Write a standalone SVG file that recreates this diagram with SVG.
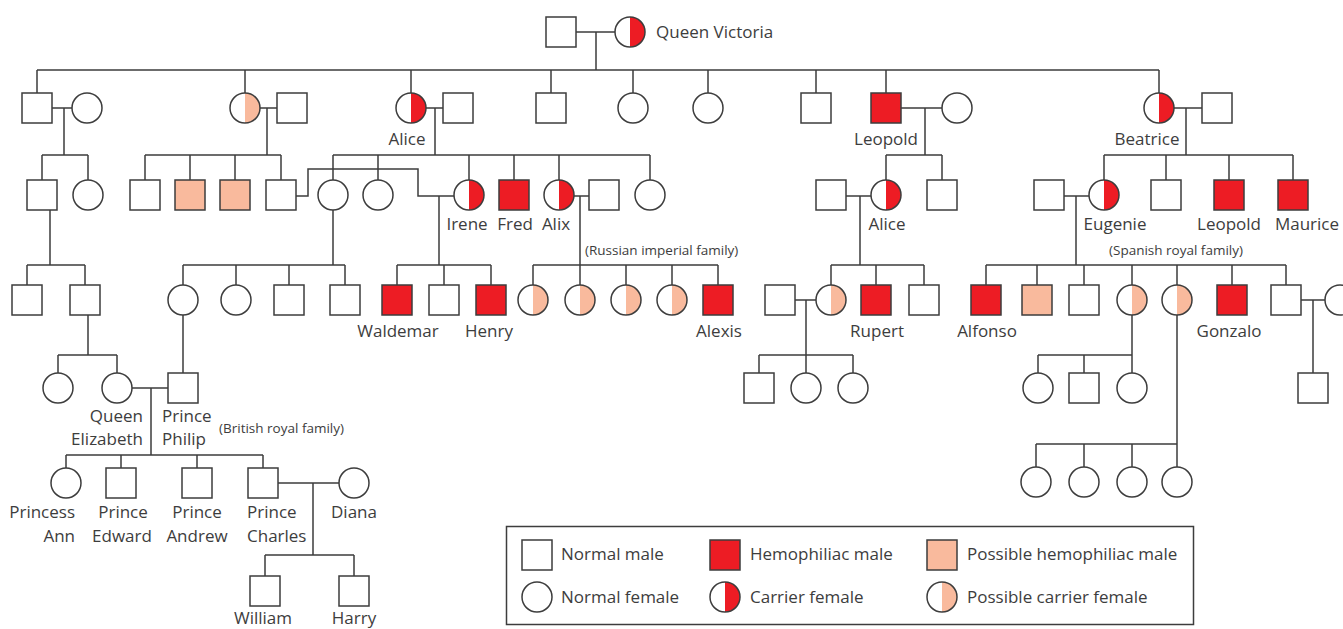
<svg xmlns="http://www.w3.org/2000/svg" width="1343" height="629" viewBox="0 0 1343 629">
<style>
.ln{fill:none;stroke:#3d3d3d;stroke-width:1.5}
.nd{stroke:#3d3d3d;stroke-width:1.5}
text{font-family:"Open Sans","Noto Sans",sans-serif;fill:#3d3d3d}
.lb{font-size:17px}
.sm{font-size:13.5px}
.mid{text-anchor:middle}
.end{text-anchor:end}
</style>
<defs>
<g id="m"><rect x="-15" y="-15" width="30" height="30" fill="#fff" class="nd"/></g>
<g id="mh"><rect x="-15" y="-15" width="30" height="30" fill="#ED1C24" class="nd"/></g>
<g id="mp"><rect x="-15" y="-15" width="30" height="30" fill="#F9BA9D" class="nd"/></g>
<g id="f"><circle r="15" fill="#fff" class="nd"/></g>
<g id="fc"><circle r="15" fill="#fff"/><path d="M0,-15A15,15 0 0 1 0,15Z" fill="#ED1C24"/><circle r="15" fill="none" class="nd"/></g>
<g id="fp"><circle r="15" fill="#fff"/><path d="M0,-15A15,15 0 0 1 0,15Z" fill="#F9BA9D"/><circle r="15" fill="none" class="nd"/></g>
</defs>

<g id="connectors" class="ln">
<path d="M576,32H615M596,32V70M37,70H1159M37,70V93M245,70V93M411,70V93M551,70V93M633,70V93M708,70V93M816,70V93M886,70V93M1159,70V93"/>
<path d="M52,108H72M64,108V155M42,155H88M42,155V180M88,155V180"/>
<path d="M260,108H277M267,108V155M145,155H281M145,155V180M190,155V180M235,155V180M281,155V180"/>
<path d="M426,108H443M435,108V155M333,155H650M333,155V180M378,155V180M469,155V180M514,155V180M559,155V180M650,155V180"/>
<path d="M901,108H942M925,108V155M886,155H942M886,155V180M942,155V180"/>
<path d="M1174,108H1202M1186,108V155M1104,155H1293M1104,155V180M1166,155V180M1229,155V180M1293,155V180"/>
<path d="M50,210V265M27,265H85M27,265V285M85,265V285"/>
<path d="M296,196H308V169H418V196H454M439,196V265M397,265H491M397,265V285M444,265V285M491,265V285"/>
<path d="M333,210V265M183,265H345M183,265V285M236,265V285M289,265V285M345,265V285"/>
<path d="M574,196H589M580,196V285M533,265H718M533,265V285M626,265V285M672,265V285M718,265V285"/>
<path d="M846,196H871M860,196V265M831,265H924M831,265V285M876,265V285M924,265V285"/>
<path d="M1064,196H1089M1076,196V265M986,265H1286M986,265V285M1037,265V285M1084,265V285M1132,265V285M1177,265V285M1232,265V285M1286,265V285"/>
<path d="M88,315V355M58,355H117M58,355V373M117,355V373M183,315V373"/>
<path d="M795,300H816M806,300V355M759,355H853M759,355V373M853,355V373M806,355V373"/>
<path d="M1132,315V373M1038,355H1132M1038,355V373M1084,355V373"/>
<path d="M1177,315V467M1036,444H1177M1036,444V467M1084,444V467M1132,444V467"/>
<path d="M1301,300H1325M1313,300V373"/>
<path d="M132,388H168M151,388V455M66,455H263M66,455V468M121,455V468M197,455V468M263,455V468"/>
<path d="M278,483H339M313,483V555M265,555H354M265,555V576M354,555V576"/>
</g>

<g id="n-albert"><use href="#m" x="561" y="32"/></g>
<g id="n-victoria"><use href="#fc" x="630" y="32"/><text class="lb" x="656" y="38">Queen Victoria</text></g>

<g id="n-g1-son1"><use href="#m" x="37" y="108"/></g>
<g id="n-g1-son1-wife"><use href="#f" x="87" y="108"/></g>
<g id="n-vicky"><use href="#fp" x="245" y="108"/></g>
<g id="n-vicky-husband"><use href="#m" x="292" y="108"/></g>
<g id="n-alice"><use href="#fc" x="411" y="108"/><text class="lb mid" x="407" y="145">Alice</text></g>
<g id="n-alice-husband"><use href="#m" x="458" y="108"/></g>
<g id="n-g1-son2"><use href="#m" x="551" y="108"/></g>
<g id="n-g1-dau1"><use href="#f" x="633" y="108"/></g>
<g id="n-g1-dau2"><use href="#f" x="708" y="108"/></g>
<g id="n-g1-son3"><use href="#m" x="816" y="108"/></g>
<g id="n-leopold"><use href="#mh" x="886" y="108"/><text class="lb mid" x="886" y="145">Leopold</text></g>
<g id="n-leopold-wife"><use href="#f" x="957" y="108"/></g>
<g id="n-beatrice"><use href="#fc" x="1159" y="108"/><text class="lb mid" x="1147" y="145">Beatrice</text></g>
<g id="n-beatrice-husband"><use href="#m" x="1217" y="108"/></g>

<g id="n-g2-a1"><use href="#m" x="42" y="195"/></g>
<g id="n-g2-a2"><use href="#f" x="88" y="195"/></g>
<g id="n-g2-v1"><use href="#m" x="145" y="195"/></g>
<g id="n-g2-v2"><use href="#mp" x="190" y="195"/></g>
<g id="n-g2-v3"><use href="#mp" x="235" y="195"/></g>
<g id="n-g2-v4"><use href="#m" x="281" y="195"/></g>
<g id="n-g2-al1"><use href="#f" x="333" y="195"/></g>
<g id="n-g2-al2"><use href="#f" x="378" y="195"/></g>
<g id="n-irene"><use href="#fc" x="469" y="195"/><text class="lb mid" x="467" y="230">Irene</text></g>
<g id="n-fred"><use href="#mh" x="514" y="195"/><text class="lb mid" x="515" y="230">Fred</text></g>
<g id="n-alix"><use href="#fc" x="559" y="195"/><text class="lb mid" x="556" y="230">Alix</text></g>
<g id="n-alix-husband"><use href="#m" x="604" y="195"/></g>
<g id="n-g2-al7"><use href="#f" x="650" y="195"/></g>
<g id="n-g2-l-husband"><use href="#m" x="831" y="195"/></g>
<g id="n-alice2"><use href="#fc" x="886" y="195"/><text class="lb mid" x="887" y="230">Alice</text></g>
<g id="n-g2-l3"><use href="#m" x="942" y="195"/></g>
<g id="n-eugenie-husband"><use href="#m" x="1049" y="195"/></g>
<g id="n-eugenie"><use href="#fc" x="1104" y="195"/><text class="lb mid" x="1115" y="230">Eugenie</text></g>
<g id="n-g2-b3"><use href="#m" x="1166" y="195"/></g>
<g id="n-leopold2"><use href="#mh" x="1229" y="195"/><text class="lb mid" x="1229" y="230">Leopold</text></g>
<g id="n-maurice"><use href="#mh" x="1293" y="195"/><text class="lb mid" x="1307" y="230">Maurice</text></g>

<g id="lbl-russian"><text class="sm" x="585" y="255">(Russian imperial family)</text></g>
<g id="lbl-spanish"><text class="sm" x="1109" y="255">(Spanish royal family)</text></g>

<g id="n-g3-1"><use href="#m" x="27" y="300"/></g>
<g id="n-g3-2"><use href="#m" x="85" y="300"/></g>
<g id="n-g3-3"><use href="#f" x="183" y="300"/></g>
<g id="n-g3-4"><use href="#f" x="236" y="300"/></g>
<g id="n-g3-5"><use href="#m" x="289" y="300"/></g>
<g id="n-g3-6"><use href="#m" x="345" y="300"/></g>
<g id="n-waldemar"><use href="#mh" x="397" y="300"/><text class="lb mid" x="398" y="337">Waldemar</text></g>
<g id="n-g3-8"><use href="#m" x="444" y="300"/></g>
<g id="n-henry"><use href="#mh" x="491" y="300"/><text class="lb mid" x="489" y="337">Henry</text></g>
<g id="n-r1"><use href="#fp" x="533" y="300"/></g>
<g id="n-r2"><use href="#fp" x="580" y="300"/></g>
<g id="n-r3"><use href="#fp" x="626" y="300"/></g>
<g id="n-r4"><use href="#fp" x="672" y="300"/></g>
<g id="n-alexis"><use href="#mh" x="718" y="300"/><text class="lb mid" x="719" y="337">Alexis</text></g>
<g id="n-g3-l1"><use href="#m" x="780" y="300"/></g>
<g id="n-g3-l2"><use href="#fp" x="831" y="300"/></g>
<g id="n-rupert"><use href="#mh" x="876" y="300"/><text class="lb mid" x="877" y="337">Rupert</text></g>
<g id="n-g3-l4"><use href="#m" x="924" y="300"/></g>
<g id="n-alfonso"><use href="#mh" x="986" y="300"/><text class="lb mid" x="987" y="337">Alfonso</text></g>
<g id="n-s2"><use href="#mp" x="1037" y="300"/></g>
<g id="n-s3"><use href="#m" x="1084" y="300"/></g>
<g id="n-s4"><use href="#fp" x="1132" y="300"/></g>
<g id="n-s5"><use href="#fp" x="1177" y="300"/></g>
<g id="n-gonzalo"><use href="#mh" x="1232" y="300"/><text class="lb mid" x="1229" y="337">Gonzalo</text></g>
<g id="n-s7"><use href="#m" x="1286" y="300"/></g>
<g id="n-s7-wife"><use href="#f" x="1340" y="300"/></g>

<g id="n-g4-1"><use href="#f" x="58" y="388"/></g>
<g id="n-elizabeth"><use href="#f" x="117" y="388"/><text class="lb end" x="143" y="422">Queen</text><text class="lb end" x="143" y="445">Elizabeth</text></g>
<g id="n-philip"><use href="#m" x="183" y="388"/><text class="lb" x="162" y="422">Prince</text><text class="lb" x="162" y="445">Philip</text></g>
<g id="lbl-british"><text class="sm" x="219" y="433">(British royal family)</text></g>
<g id="n-g4-l1"><use href="#m" x="759" y="388"/></g>
<g id="n-g4-l2"><use href="#f" x="806" y="388"/></g>
<g id="n-g4-l3"><use href="#f" x="853" y="388"/></g>
<g id="n-g4-s1"><use href="#f" x="1038" y="388"/></g>
<g id="n-g4-s2"><use href="#m" x="1084" y="388"/></g>
<g id="n-g4-s3"><use href="#f" x="1132" y="388"/></g>
<g id="n-g4-s4"><use href="#m" x="1313" y="388"/></g>

<g id="n-ann"><use href="#f" x="66" y="483"/><text class="lb end" x="75" y="518">Princess</text><text class="lb end" x="75" y="542">Ann</text></g>
<g id="n-edward"><use href="#m" x="121" y="483"/><text class="lb mid" x="123" y="518">Prince</text><text class="lb mid" x="122" y="542">Edward</text></g>
<g id="n-andrew"><use href="#m" x="197" y="483"/><text class="lb mid" x="197" y="518">Prince</text><text class="lb mid" x="197" y="542">Andrew</text></g>
<g id="n-charles"><use href="#m" x="263" y="483"/><text class="lb" x="247" y="518">Prince</text><text class="lb" x="247" y="542">Charles</text></g>
<g id="n-diana"><use href="#f" x="354" y="483"/><text class="lb mid" x="354" y="518">Diana</text></g>
<g id="n-g5-s1"><use href="#f" x="1036" y="482"/></g>
<g id="n-g5-s2"><use href="#f" x="1084" y="482"/></g>
<g id="n-g5-s3"><use href="#f" x="1132" y="482"/></g>
<g id="n-g5-s4"><use href="#f" x="1177" y="482"/></g>

<g id="n-william"><use href="#m" x="265" y="591"/><text class="lb mid" x="263" y="624">William</text></g>
<g id="n-harry"><use href="#m" x="354" y="591"/><text class="lb mid" x="354" y="624">Harry</text></g>

<g id="legend">
<rect x="506.5" y="526.5" width="687" height="98" fill="#fff" class="nd"/>
<use href="#m" x="537" y="555"/><text class="lb" x="561" y="560">Normal male</text>
<use href="#mh" x="725" y="555"/><text class="lb" x="750" y="560">Hemophiliac male</text>
<use href="#mp" x="942" y="555"/><text class="lb" x="967" y="560">Possible hemophiliac male</text>
<use href="#f" x="537" y="597"/><text class="lb" x="561" y="603">Normal female</text>
<use href="#fc" x="725" y="597"/><text class="lb" x="750" y="603">Carrier female</text>
<use href="#fp" x="942" y="597"/><text class="lb" x="967" y="603">Possible carrier female</text>
</g>
</svg>
